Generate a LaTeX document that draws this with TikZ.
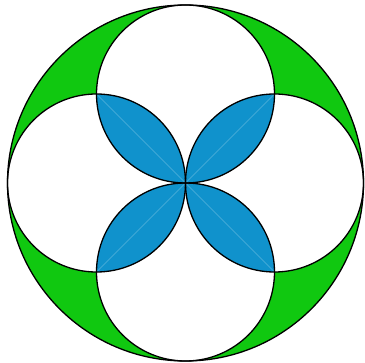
\documentclass[tikz,border=0pt]{standalone}
\usetikzlibrary{calc}
\begin{document}
\begin{tikzpicture}[x=1pt,y=1pt,
  outline/.style={draw=black,line width=1.3pt},
  petalfill/.style={fill=petal},
  faint/.style={draw=petal!70!white,line width=0.6pt}]
\definecolor{ring}{RGB}{16,200,16}
\definecolor{petal}{RGB}{16,146,204}
\useasboundingbox (0,0) rectangle (365,-363);
\def\R{178}
\def\r{89}
\coordinate (C) at (185.5,-183);
\coordinate (T) at ($(C)+(0,\r)$);
\coordinate (B) at ($(C)+(0,-\r)$);
\coordinate (L) at ($(C)+(-\r,0)$);
\coordinate (Rt) at ($(C)+(\r,0)$);
\coordinate (TL) at ($(C)+(-\r,\r)$);
\coordinate (TR) at ($(C)+(\r,\r)$);
\coordinate (BL) at ($(C)+(-\r,-\r)$);
\coordinate (BR) at ($(C)+(\r,-\r)$);
\fill[ring] (C) circle (\R);
\foreach \p in {T,B,L,Rt} \fill[white] (\p) circle (\r);
\foreach \a/\b in {T/L,T/Rt,B/L,B/Rt}{
  \begin{scope}
    \clip (\a) circle (\r);
    \fill[petal] (\b) circle (\r);
  \end{scope}}
\foreach \q in {TL,TR,BL,BR} \draw[faint] (C) -- (\q);
\foreach \p in {T,B,L,Rt} \draw[outline] (\p) circle (\r);
\draw[outline] (C) circle (\R);
\end{tikzpicture}
\end{document}
